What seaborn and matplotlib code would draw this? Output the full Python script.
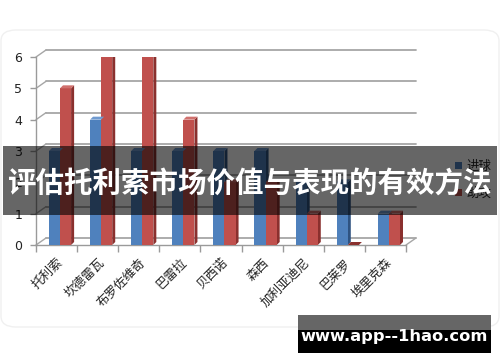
import matplotlib
matplotlib.use("Agg")
import matplotlib.pyplot as plt
import seaborn as sns
import pandas as pd
import numpy as np
from matplotlib.patches import Rectangle, Polygon, FancyBboxPatch
from matplotlib.transforms import offset_copy

players = ["托利索", "坎德雷瓦", "布罗佐维奇", "巴雷拉", "贝西诺", "森西", "加利亚迪尼", "巴莱罗", "埃里克森"]
goals = [3, 4, 3, 3, 3, 3, 2, 2, 1]
assists = [5, 6, 6, 4, 2, 2, 1, 0, 1]
series_names = ["进球", "助攻"]
yticks = [0, 1, 2, 3, 4, 5, 6]
title = "评估托利索市场价值与表现的有效方法"
watermark = "www.app--1hao.com"

BLUE, RED = "#4F81BD", "#C0504D"
BLUE_SIDE, RED_SIDE = "#2F5381", "#8A302E"
BLUE_TOP, RED_TOP = "#6F9AD0", "#D0706D"
CJK = ["Noto Sans CJK SC", "DejaVu Sans"]

df = pd.DataFrame({
    "player": players * 2,
    "value": goals + assists,
    "stat": [series_names[0]] * len(players) + [series_names[1]] * len(players),
})

sns.set_theme(style="white")
plt.rcParams["font.family"] = CJK

W, H = 500, 362
fig = plt.figure(figsize=(W / 100, H / 100), dpi=100)
fig.patch.set_facecolor("white")

# card outline
card = FancyBboxPatch((1 / W, 1 - 327 / H), 498 / W, 297 / H,
                      boxstyle="round,pad=0,rounding_size=0.03",
                      transform=fig.transFigure, facecolor="white",
                      edgecolor="#f0f0f0", linewidth=1.0, zorder=0)
fig.add_artist(card)

ax = fig.add_axes([36 / W, 1 - 245 / H, 370 / W, 188 / H])
ax.set_facecolor("none")
ax.set_zorder(0.5)

sns.barplot(data=df, x="player", y="value", hue="stat", order=players,
            hue_order=series_names, palette=[BLUE, RED], width=0.54,
            saturation=1, linewidth=0, ax=ax, zorder=3)

shift = 0.084
ax.set_xlim(-0.5 - shift, len(players) - 0.5 - shift)
ax.set_ylim(0, 6)

# back wall gridlines with 3D offset
back = offset_copy(ax.transData, fig=fig, x=10, y=7, units="dots")
grid_c = "#a6a6a6"
x0, x1 = ax.get_xlim()
for v in yticks:
    ax.plot([x0, x1], [v, v], transform=back, color=grid_c, lw=1.3, zorder=1, clip_on=False)
    p_front = ax.transData.transform((x0, v))
    p_back = back.transform((x0, v))
    ax.plot([p_front[0], p_back[0]], [p_front[1], p_back[1]], transform=None,
            color=grid_c, lw=1.0, zorder=1, clip_on=False)
pf = ax.transData.transform((x1, 0))
pb = back.transform((x1, 0))
ax.plot([pf[0], pb[0]], [pf[1], pb[1]], transform=None, color=grid_c, lw=1.0, zorder=1, clip_on=False)

# 3D faces on bars
fx = ax.transData.transform((1, 0))[0] - ax.transData.transform((0, 0))[0]
fy = ax.transData.transform((0, 1))[1] - ax.transData.transform((0, 0))[1]
dx, dy = 3.0 / fx, 3.0 / fy
for cont, side_c, top_c in zip(ax.containers, [BLUE_SIDE, RED_SIDE], [BLUE_TOP, RED_TOP]):
    for bar in cont:
        bx, bw, bh = bar.get_x(), bar.get_width(), bar.get_height()
        side = Polygon([(bx + bw, 0), (bx + bw, bh), (bx + bw + dx, bh + dy), (bx + bw + dx, dy)],
                       closed=True, facecolor=side_c, edgecolor="none", zorder=2.9)
        top = Polygon([(bx, bh), (bx + bw, bh), (bx + bw + dx, bh + dy), (bx + dx, bh + dy)],
                      closed=True, facecolor=top_c if bh > 0 else side_c, edgecolor="none", zorder=3.1)
        ax.add_patch(side)
        ax.add_patch(top)

for s in ["top", "right"]:
    ax.spines[s].set_visible(False)
for s in ["left", "bottom"]:
    ax.spines[s].set_color("#9a9a9a")
    ax.spines[s].set_linewidth(1.0)

ax.set_yticks(yticks)
ax.set_yticklabels([str(v) for v in yticks], fontsize=9, color="#222222", family=["DejaVu Sans"])
ax.tick_params(axis="y", which="major", length=4, width=1, color="#9a9a9a", pad=6, left=True)

centers = np.arange(len(players)) - shift
ax.set_xticks(centers)
ax.set_xticklabels(players, rotation=45, ha="right", va="top", rotation_mode="anchor",
                   fontsize=9, color="#222222", family=CJK)
ax.set_xticks(np.arange(len(players) + 1) - 0.5 - shift, minor=True)
ax.tick_params(axis="x", which="major", length=0, pad=8)
ax.tick_params(axis="x", which="minor", length=5, width=1, color="#9a9a9a", bottom=True)
ax.set_xlabel("")
ax.set_ylabel("")

handles, labels = ax.get_legend_handles_labels()
ax.legend(handles, labels, loc="center left", bbox_to_anchor=(444 / W, 1 - 180 / H),
          bbox_transform=fig.transFigure, frameon=False,
          handlelength=0.5, handleheight=0.5, handletextpad=0.4, labelspacing=1.1,
          prop={"family": CJK, "size": 9})

# banner
fig.add_artist(Rectangle((3 / W, 1 - 215 / H), 494 / W, 69 / H, transform=fig.transFigure,
                         facecolor="black", alpha=0.6, edgecolor="none", zorder=5))
fig.text(0.5, 1 - 183.5 / H, title, ha="center", va="center", color="white",
         fontsize=20.5, fontweight="bold", family=CJK, zorder=6)

# watermark
fig.add_artist(Rectangle((298 / W, 1 - 353 / H), 193 / W, 38 / H, transform=fig.transFigure,
                         facecolor="black", edgecolor="none", zorder=5))
fig.add_artist(Rectangle((298 / W, 1 - 330 / H), 193 / W, 15 / H, transform=fig.transFigure,
                         facecolor="#666666", edgecolor="none", zorder=5.5))
fig.text(394 / W, 1 - 337 / H, watermark, ha="center", va="center", color="white",
         fontsize=11.7, fontweight="bold", family=["DejaVu Sans"], zorder=6)

fig.savefig("out.png", dpi=100, facecolor="white")
